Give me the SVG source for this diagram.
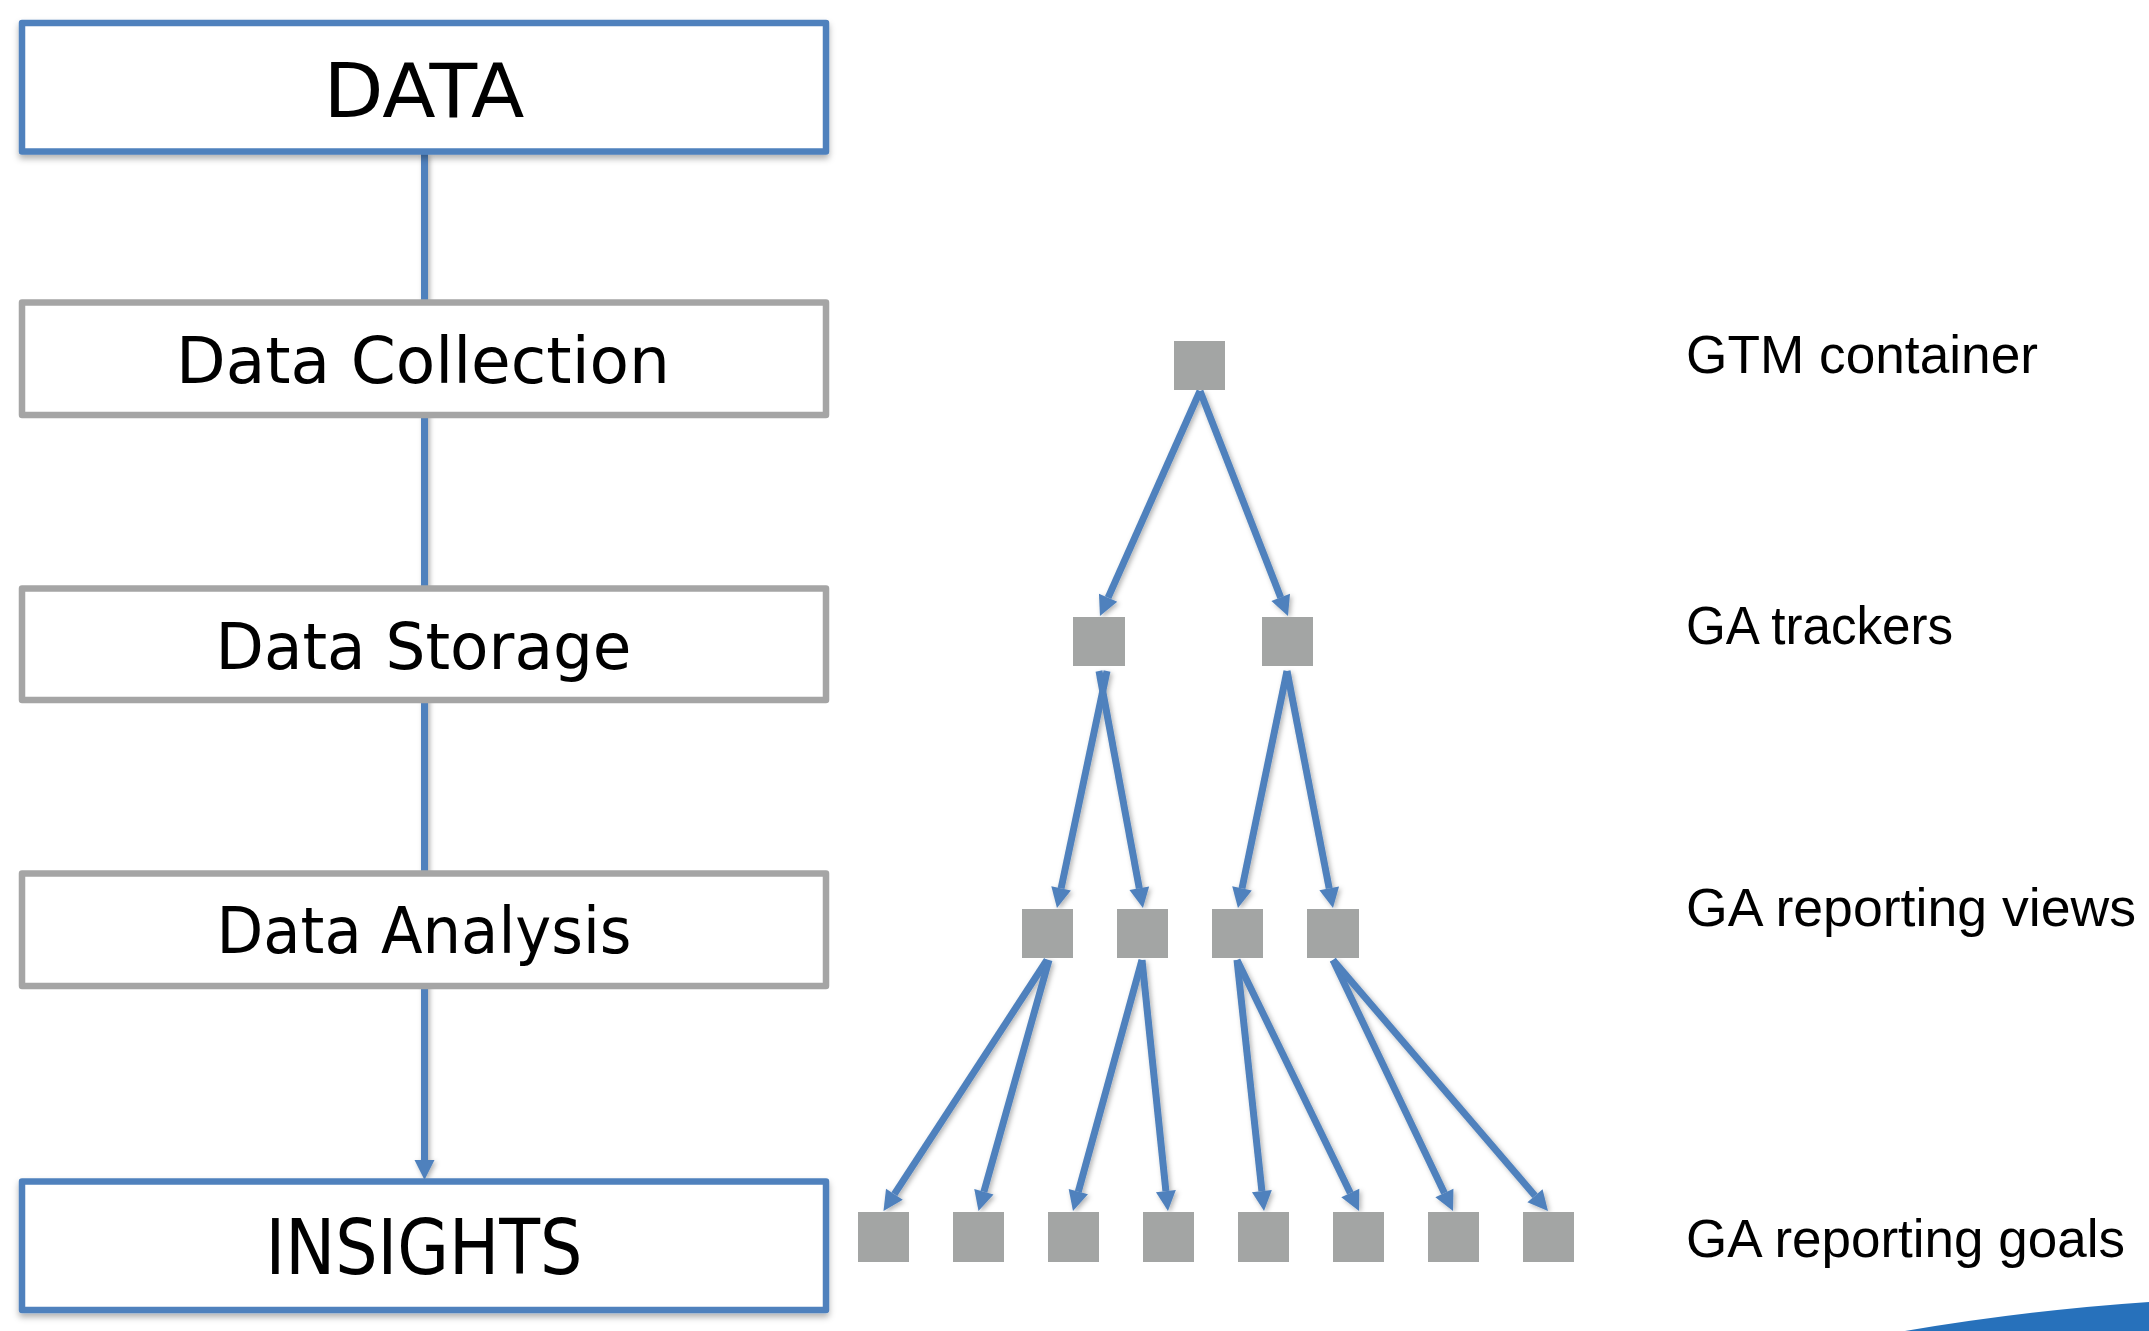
<svg xmlns="http://www.w3.org/2000/svg" width="2149" height="1331" viewBox="0 0 2149 1331">
<style>
.bg{fill:#ffffff}
.keybox{fill:#ffffff;stroke:#4F81BD;stroke-width:6.5;stroke-linejoin:round;filter:url(#boxShadow)}
.stepbox{fill:#ffffff;stroke:#A5A5A5;stroke-width:6.5;stroke-linejoin:round}
.sq{fill:#A3A5A4}
.conn{fill:none;stroke:#4F81BD;stroke-width:7;marker-end:url(#ah)}
.ltxt{font-family:"DejaVu Sans",sans-serif;fill:#000000;text-anchor:middle}
.rtxt{font-family:"Liberation Sans",Arial,sans-serif;font-size:53px;fill:#000000}
</style>
<defs>
<marker id="ah" markerUnits="userSpaceOnUse" markerWidth="20" markerHeight="20" refX="0" refY="10" orient="auto" overflow="visible">
<path d="M0,0 L20,10 L0,20 Z" fill="#4F81BD"/>
</marker>
<filter id="boxShadow" x="-5%" y="-10%" width="110%" height="130%">
<feDropShadow dx="0" dy="4" stdDeviation="3" flood-color="#000000" flood-opacity="0.3"/>
</filter>
<filter id="lineShadow" x="-10%" y="-10%" width="120%" height="120%">
<feDropShadow dx="2" dy="2" stdDeviation="2.5" flood-color="#000000" flood-opacity="0.3"/>
</filter>
</defs>
<rect class="bg" x="0" y="0" width="2149" height="1331"/>

<g id="connectors" filter="url(#lineShadow)">
<path class="conn" d="M424.5,154 L424.5,1160"/>
<path class="conn" d="M1200,391 L1108.1,597.7"/>
<path class="conn" d="M1200,391 L1280.7,597.4"/>
<path class="conn" d="M1107,671 L1061.1,888.4"/>
<path class="conn" d="M1099,671 L1139.3,888.3"/>
<path class="conn" d="M1287,671 L1242,888.4"/>
<path class="conn" d="M1287,671 L1329.2,888.4"/>
<path class="conn" d="M1047,960 L894.4,1194.2"/>
<path class="conn" d="M1049,960 L983.9,1191.7"/>
<path class="conn" d="M1142,960 L1078.3,1191.7"/>
<path class="conn" d="M1142,960 L1165.9,1191.1"/>
<path class="conn" d="M1237,960 L1261.9,1191.1"/>
<path class="conn" d="M1237,960 L1350.3,1193"/>
<path class="conn" d="M1333,960 L1444.4,1193"/>
<path class="conn" d="M1333,960 L1535,1195.8"/>
</g>

<g id="node-data">
<rect class="keybox" x="22" y="23" width="804" height="128.5"/>
<text class="ltxt" x="424" y="116.7" font-size="75" textLength="201" lengthAdjust="spacingAndGlyphs">DATA</text>
</g>
<g id="node-collection">
<rect class="stepbox" x="22" y="302.5" width="804" height="112.5"/>
<text class="ltxt" x="423" y="383.3" font-size="64" textLength="494" lengthAdjust="spacingAndGlyphs">Data Collection</text>
</g>
<g id="node-storage">
<rect class="stepbox" x="22" y="588.5" width="804" height="111.5"/>
<text class="ltxt" x="423.5" y="669" font-size="64" textLength="416" lengthAdjust="spacingAndGlyphs">Data Storage</text>
</g>
<g id="node-analysis">
<rect class="stepbox" x="22" y="873.5" width="804" height="112.5"/>
<text class="ltxt" x="424" y="953.3" font-size="64" textLength="415" lengthAdjust="spacingAndGlyphs">Data Analysis</text>
</g>
<g id="node-insights">
<rect class="keybox" x="22" y="1181.5" width="804" height="128.5"/>
<text class="ltxt" x="424" y="1274.3" font-size="77" textLength="317" lengthAdjust="spacingAndGlyphs">INSIGHTS</text>
</g>

<g id="node-gtm"><rect class="sq" x="1174" y="341" width="51" height="49"/></g>
<g id="node-tracker-1"><rect class="sq" x="1073" y="617" width="52" height="49"/></g>
<g id="node-tracker-2"><rect class="sq" x="1262" y="617" width="51" height="49"/></g>
<g id="node-view-1"><rect class="sq" x="1022" y="909" width="51" height="49"/></g>
<g id="node-view-2"><rect class="sq" x="1117" y="909" width="51" height="49"/></g>
<g id="node-view-3"><rect class="sq" x="1212" y="909" width="51" height="49"/></g>
<g id="node-view-4"><rect class="sq" x="1307" y="909" width="52" height="49"/></g>
<g id="node-goal-1"><rect class="sq" x="858" y="1212" width="51" height="50"/></g>
<g id="node-goal-2"><rect class="sq" x="953" y="1212" width="51" height="50"/></g>
<g id="node-goal-3"><rect class="sq" x="1048" y="1212" width="51" height="50"/></g>
<g id="node-goal-4"><rect class="sq" x="1143" y="1212" width="51" height="50"/></g>
<g id="node-goal-5"><rect class="sq" x="1238" y="1212" width="51" height="50"/></g>
<g id="node-goal-6"><rect class="sq" x="1333" y="1212" width="51" height="50"/></g>
<g id="node-goal-7"><rect class="sq" x="1428" y="1212" width="51" height="50"/></g>
<g id="node-goal-8"><rect class="sq" x="1523" y="1212" width="51" height="50"/></g>

<g id="labels">
<text class="rtxt" x="1686" y="372.7" textLength="352" lengthAdjust="spacingAndGlyphs">GTM container</text>
<text class="rtxt" x="1686" y="644.3" textLength="267" lengthAdjust="spacingAndGlyphs">GA trackers</text>
<text class="rtxt" x="1686" y="926" textLength="450" lengthAdjust="spacingAndGlyphs">GA reporting views</text>
<text class="rtxt" x="1686" y="1257.3" textLength="439" lengthAdjust="spacingAndGlyphs">GA reporting goals</text>
</g>

<path id="swoosh" d="M1905,1331 Q2030,1310 2149,1302 L2149,1331 Z" fill="#2771BB"/>
</svg>
